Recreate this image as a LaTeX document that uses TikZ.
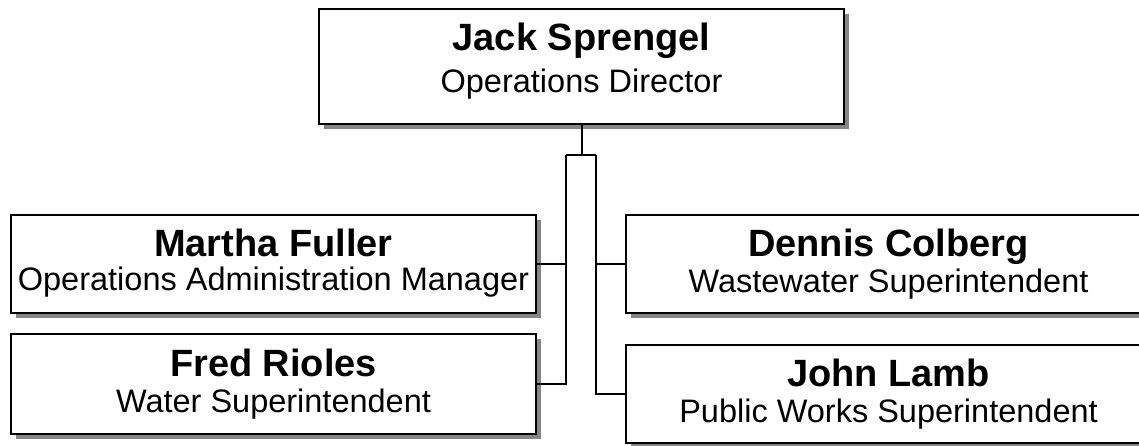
\documentclass[tikz,border=0pt]{standalone}
\usepackage{fontspec}
\setmainfont{Liberation Sans}
\usetikzlibrary{shadows}
\definecolor{shgray}{HTML}{868686}
\tikzset{
  orgbox/.style={draw=black, line width=2.4pt, fill=white, rectangle, inner sep=0pt,
    minimum width=525pt, drop shadow={shadow xshift=4.5pt, shadow yshift=-5pt, fill=shgray, opacity=1}},
  nametext/.style={anchor=base, inner sep=0pt, font=\fontsize{38}{42}\selectfont\bfseries},
  roletext/.style={anchor=base, inner sep=0pt, font=\fontsize{32.5}{36}\selectfont},
  link/.style={draw=black, line width=2pt}
}
\begin{document}
\begin{tikzpicture}[x=1pt,y=-1pt]
\useasboundingbox (0,0) rectangle (1139,445);
% boxes
\node[orgbox, minimum height=115pt] (top) at (581.5,66.5) {};
\node[orgbox, minimum height=98pt] (martha) at (273.5,264) {};
\node[orgbox, minimum height=100pt] (fred) at (273.5,384) {};
\node[orgbox, minimum height=98pt] (dennis) at (888.5,264) {};
\node[orgbox, minimum height=98pt] (john) at (888.5,394) {};
% texts
\node[nametext] (topn) at (581.5,50) {Jack Sprengel};
\node[roletext] (topr) at (581.5,92) {Operations Director};
\node[nametext] (marthan) at (273.5,256) {Martha Fuller};
\node[roletext] (marthar) at (273.5,290) {Operations Administration Manager};
\node[nametext] (fredn) at (273.5,376) {Fred Rioles};
\node[roletext] (fredr) at (273.5,412) {Water Superintendent};
\node[nametext] (dennisn) at (888.5,256) {Dennis Colberg};
\node[roletext] (dennisr) at (888.5,292) {Wastewater Superintendent};
\node[nametext] (johnn) at (888.5,386) {John Lamb};
\node[roletext] (johnr) at (888.5,422) {Public Works Superintendent};
% connectors
\coordinate (jl) at (566,155);
\coordinate (jr) at (595.5,155);
\draw[link] (top.south) -- (top.south |- jl);
\draw[link] (jl) -- (jr);
\draw[link] (jl) |- (martha.east);
\draw[link] (jl) |- (fred.east);
\draw[link] (jr) |- (dennis.west);
\draw[link] (jr) |- (john.west);
\end{tikzpicture}
\end{document}
